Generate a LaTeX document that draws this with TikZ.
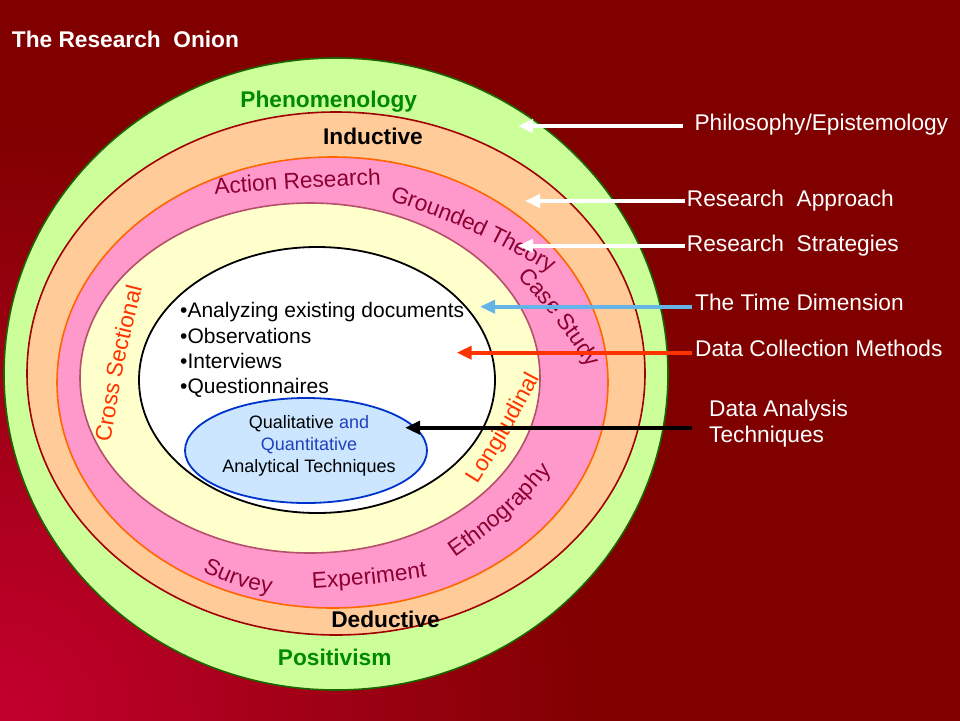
\documentclass[tikz,border=0pt]{standalone}
\usepackage{fontspec}
\setmainfont{Liberation Sans}
\usetikzlibrary{arrows.meta,decorations.text}
\definecolor{bgred}{HTML}{800000}
\definecolor{glow}{HTML}{C4002E}
\definecolor{ringgreen}{HTML}{CCFF99}
\definecolor{ringpeach}{HTML}{FFCC99}
\definecolor{ringpink}{HTML}{FF99CC}
\definecolor{ringyellow}{HTML}{FFFFCC}
\definecolor{ringblue}{HTML}{CCE6FF}
\definecolor{edgegreen}{HTML}{1A6600}
\definecolor{edgedark}{HTML}{A00000}
\definecolor{edgeorange}{HTML}{FF6600}
\definecolor{edgebrown}{HTML}{B4506A}
\definecolor{edgeblue}{HTML}{0033CC}
\definecolor{txtblue}{HTML}{2040C0}
\definecolor{txtgreen}{HTML}{008A00}
\definecolor{txtmaroon}{HTML}{8B0030}
\definecolor{txtorange}{HTML}{FF3300}
\definecolor{arrblue}{HTML}{64B4E8}
\definecolor{arrred}{HTML}{FF3300}
\newcommand\fsz[1]{\fontsize{#1}{#1}\selectfont}
\newcommand\arcmaroon{\fsz{22.7}\color{txtmaroon}}
\newcommand\arcorange{\fsz{22.7}\color{txtorange}}
\begin{document}
\begin{tikzpicture}[x=1pt,y=-1pt,
  ringlbl/.style={font=\fsz{22.7}\bfseries, inner sep=0pt, anchor=base},
  sidelbl/.style={font=\fsz{22.7}, text=white, inner sep=0pt, anchor=base west},
  bulletlbl/.style={font=\fsz{21}, inner sep=0pt, anchor=base west},
  techlbl/.style={font=\fsz{18}, inner sep=0pt, anchor=base},
  arr/.style={line width=4pt, -{Triangle[length=15pt,width=13pt]}},
  ringedge/.style={line width=1.6pt},
]
\useasboundingbox (0,0) rectangle (960,720);
\fill[bgred] (-4,-4) rectangle (964,724);
\begin{scope}
  \clip (-4,-4) rectangle (964,724);
  \shade[inner color=glow, outer color=bgred] (0,720) circle (600);
\end{scope}

% rings
\draw[ringedge, draw=edgegreen, fill=ringgreen] (336,374) ellipse [x radius=332, y radius=316];
\draw[ringedge, draw=edgedark, fill=ringpeach] (336,373.5) ellipse [x radius=309, y radius=261.5];
\draw[ringedge, draw=edgeorange, fill=ringpink] (332.5,382.5) ellipse [x radius=275.5, y radius=225.5];
\draw[ringedge, draw=edgebrown, fill=ringyellow] (310,378) ellipse [x radius=230, y radius=175];
\draw[line width=1.8pt, draw=black, fill=white] (317,380) ellipse [x radius=178, y radius=133];
\draw[line width=1.8pt, draw=edgeblue, fill=ringblue] (306,450.5) ellipse [x radius=121, y radius=52.5];

% title
\node[font=\fsz{22.7}\bfseries, text=white, anchor=base west, inner sep=0pt] (title) at (11.7,47.3) {The Research~ Onion};

% ring labels
\node[ringlbl, text=txtgreen] (phen) at (328.7,107) {Phenomenology};
\node[ringlbl] (ind) at (373,144) {Inductive};
\node[ringlbl] (ded) at (385.5,627.3) {Deductive};
\node[ringlbl, text=txtgreen] (pos) at (334.7,665.7) {Positivism};

% curved strategy / time labels
\path[decorate, decoration={text along path, text align=center, raise=-7pt, text={|\arcmaroon|Action Research}}]
  (200,188.5) .. controls (297.5,181) .. (395,177);
\path[decorate, decoration={text along path, text align=center, raise=-7pt, text={|\arcmaroon|Grounded Theory}}]
  (385,191) .. controls (475.8,223.2) .. (560,270);
\path[decorate, decoration={text along path, text align=center, raise=-7pt, text={|\arcmaroon|Case Study}}]
  (515,263) .. controls (562,315.5) .. (601,374);
\path[decorate, decoration={text along path, text align=center, raise=-7pt, text={|\arcmaroon|Ethnography}}]
  (443.8,557) .. controls (503.3,514.5) .. (552.2,460);
\path[decorate, decoration={text along path, text align=center, raise=-7pt, text={|\arcmaroon|Experiment}}]
  (298,582.5) .. controls (369,578) .. (440,568);
\path[decorate, decoration={text along path, text align=center, raise=-7pt, text={|\arcmaroon|Survey}}]
  (197.8,561.3) .. controls (237.3,580) .. (280.2,588.7);
\path[decorate, decoration={text along path, text align=center, raise=-7pt, text={|\arcorange|Longitudinal}}]
  (463,495) .. controls (504.6,429) .. (541,360);
\path[decorate, decoration={text along path, text align=center, raise=-7pt, text={|\arcorange|Cross Sectional}}]
  (102,451.7) .. controls (116,363.2) .. (138,276.3);

% data collection methods
\node[bulletlbl] (d1) at (180,317.7) {•Analyzing existing documents};
\node[bulletlbl] (d2) at (180,343) {•Observations};
\node[bulletlbl] (d3) at (180,368.3) {•Interviews};
\node[bulletlbl] (d4) at (180,393.6) {•Questionnaires};

% analysis techniques
\node[techlbl] (q1) at (309,428.3) {Qualitative \textcolor{txtblue}{and}};
\node[techlbl, text=txtblue] (q2) at (309,450) {Quantitative};
\node[techlbl] (q3) at (309,472.7) {Analytical Techniques};

% side labels
\node[sidelbl] (l1) at (694.3,130) {Philosophy/Epistemology};
\node[sidelbl] (l2) at (686.7,206) {Research~ Approach};
\node[sidelbl] (l3) at (686.7,251.7) {Research~ Strategies};
\node[sidelbl] (l4) at (695,310.7) {The Time Dimension};
\node[sidelbl] (l5) at (695,356.7) {Data Collection Methods};
\node[sidelbl] (l6) at (709,416.7) {Data Analysis};
\node[sidelbl] (l7) at (709,442.7) {Techniques};

% arrows
\coordinate (s1) at (683,126);   \coordinate (t1) at (518,126);
\coordinate (s2) at (685,201);   \coordinate (t2) at (525,201);
\coordinate (s3) at (685,245.7); \coordinate (t3) at (518,245.7);
\coordinate (s4) at (692,306.7); \coordinate (t4) at (480,306.7);
\coordinate (s5) at (692,352.7); \coordinate (t5) at (456.7,352.7);
\coordinate (s6) at (692,427.7); \coordinate (t6) at (405,427.7);
\draw[arr, white] (s1) -- (t1);
\draw[arr, white] (s2) -- (t2);
\draw[arr, white] (s3) -- (t3);
\draw[arr, arrblue] (s4) -- (t4);
\draw[arr, arrred] (s5) -- (t5);
\draw[arr, black] (s6) -- (t6);
\end{tikzpicture}
\end{document}
